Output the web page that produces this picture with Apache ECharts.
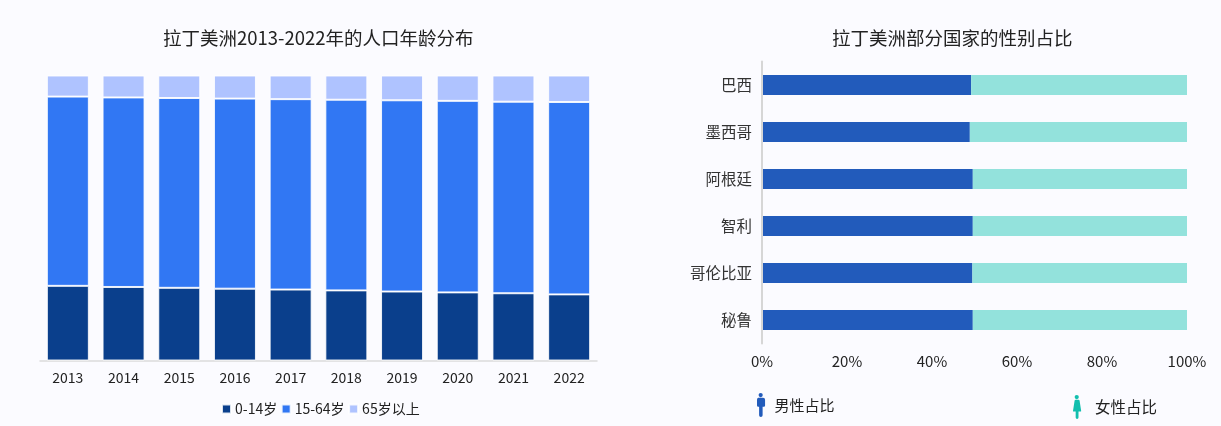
<!DOCTYPE html>
<html>
<head>
<meta charset="utf-8">
<style>
html,body{margin:0;padding:0;background:#fbfbff;}
#chart{width:1221px;height:426px;}
</style>
<script src="https://cdn.jsdelivr.net/npm/echarts@6/dist/echarts.min.js"></script>
</head>
<body>
<div id="chart"></div>
<script>
// Population by age group, share of total (%)
const years = ['2013','2014','2015','2016','2017','2018','2019','2020','2021','2022'];
const age0to14 = [26.2,25.8,25.5,25.2,24.9,24.6,24.2,23.9,23.6,23.2];
const age15to64 = [66.4,66.5,66.6,66.7,66.8,66.9,67.1,67.2,67.2,67.5];
const age65plus = [7.4,7.7,7.9,8.1,8.3,8.5,8.7,8.9,9.2,9.3];

// Sex ratio by country (%)
const countries = ['巴西','墨西哥','阿根廷','智利','哥伦比亚','秘鲁'];
const maleShare = [49.2,48.9,49.6,49.6,49.5,49.6];
const femaleShare = [50.8,51.1,50.4,50.4,50.5,50.4];

const FONT = '"Noto Sans CJK SC","Noto Sans",sans-serif';
const manIcon = 'path://M50,0 a24,24 0 1,1 -0.1,0 z M22,54 h56 a22,22 0 0,1 22,22 v66 a14,14 0 0,1 -14,14 h-14 v98 a20,20 0 0,1 -40,0 v-98 h-10 a14,14 0 0,1 -14,-14 v-66 a22,22 0 0,1 14,-22 z';
const womanIcon = 'path://M50,0 a24,24 0 1,1 -0.1,0 z M30,54 h40 a12,12 0 0,1 12,8 l18,116 a6,6 0 0,1 -6,8 h-24 v70 a16,16 0 0,1 -32,0 v-70 h-24 a6,6 0 0,1 -6,-8 l18,-116 a12,12 0 0,1 12,-8 z';

const stacked = (name, data, color) => ({
  name, type: 'bar', stack: 'age', data, barWidth: 42,
  xAxisIndex: 0, yAxisIndex: 0,
  itemStyle: { color, borderColor: 'rgba(255,255,255,0.85)', borderWidth: 1 }
});
const ratio = (name, data, color) => ({
  name, type: 'bar', stack: 'sex', data, barWidth: 20,
  xAxisIndex: 1, yAxisIndex: 1,
  itemStyle: { color }
});
const titleStyle = { fontFamily: FONT, fontSize: 18.5, fontWeight: 'normal', color: '#222' };

const chart = echarts.init(document.getElementById('chart'), null, { renderer: 'canvas' });
chart.setOption({
  backgroundColor: '#fbfbff',
  animation: false,
  textStyle: { fontFamily: FONT },
  title: [
    { text: '拉丁美洲2013-2022年的人口年龄分布', left: 163, top: 29, padding: 0, textStyle: titleStyle },
    { text: '拉丁美洲部分国家的性别占比', left: 832, top: 29, padding: 0, textStyle: titleStyle }
  ],
  legend: [
    { data: ['0-14岁','15-64岁','65岁以上'], left: 221, top: 402, itemWidth: 9, itemHeight: 9, itemGap: 3.5,
      icon: 'rect', textStyle: { fontFamily: FONT, fontSize: 14, color: '#222', padding: [0,0,0,-1] }, padding: 0 },
    { data: [{ name: '男性占比', icon: manIcon, itemStyle: { color: '#225bbb' } }],
      left: 757, top: 393, itemWidth: 9, itemHeight: 24, padding: 0, selectedMode: false,
      textStyle: { fontFamily: FONT, fontSize: 15, color: '#222', padding: [0,0,0,4] } },
    { data: [{ name: '女性占比', icon: womanIcon, itemStyle: { color: '#12bfae' } }],
      left: 1073, top: 395, itemWidth: 10, itemHeight: 24, padding: 0, selectedMode: false,
      textStyle: { fontFamily: FONT, fontSize: 15.5, color: '#222', padding: [0,0,0,8] } }
  ],
  grid: [
    { left: 40, top: 75.5, width: 557, height: 285 },
    { left: 762, top: 61.5, width: 425, height: 282 }
  ],
  xAxis: [
    { gridIndex: 0, type: 'category', data: years,
      axisLine: { lineStyle: { color: '#dcdcdc', width: 1.5 } }, axisTick: { show: false },
      axisLabel: { fontFamily: FONT, fontSize: 14, color: '#222', margin: 10 } },
    { gridIndex: 1, type: 'value', min: 0, max: 100, interval: 20,
      axisLine: { show: false }, axisTick: { show: false }, splitLine: { show: false },
      axisLabel: { fontFamily: FONT, fontSize: 15, color: '#222', margin: 10, formatter: '{value}%' } }
  ],
  yAxis: [
    { gridIndex: 0, type: 'value', min: 0, max: 100, show: false },
    { gridIndex: 1, type: 'category', data: countries, inverse: true, z: 3,
      axisLine: { lineStyle: { color: '#d6d6d6', width: 2 } }, axisTick: { show: false },
      axisLabel: { fontFamily: FONT, fontSize: 15.5, color: '#333', margin: 10 } }
  ],
  series: [
    stacked('0-14岁', age0to14, '#0a3f8c'),
    stacked('15-64岁', age15to64, '#3177f3'),
    stacked('65岁以上', age65plus, '#afc3ff'),
    ratio('男性占比', maleShare, '#225bbb'),
    ratio('女性占比', femaleShare, '#93e2dc')
  ]
});
</script>
</body>
</html>
